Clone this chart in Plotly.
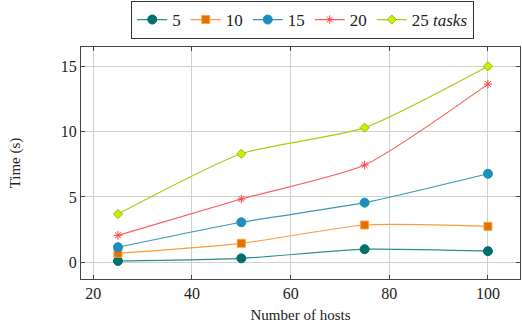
import plotly.graph_objects as go

hosts = [25, 50, 75, 100]
t5 = [0.10, 0.30, 1.00, 0.85]
t10 = [0.69, 1.45, 2.85, 2.75]
t15 = [1.15, 3.06, 4.56, 6.77]
t20 = [2.06, 4.84, 7.44, 13.63]
t25 = [3.69, 8.30, 10.30, 15.00]

series = [
    ("5", t5, "#2a8f8a", "#00706b", "#00706b", "circle", 9),
    ("10", t10, "#ff9a3c", "#e07000", "#ffa040", "square", 8),
    ("15", t15, "#3a95b8", "#1a8fba", "#1a8fba", "circle", 9),
    ("20", t20, "#ff5c5c", "#ff4040", "#ff4040", "asterisk-open", 7),
    ("25 <i>tasks</i>", t25, "#a0d010", "#c8f000", "#90c000", "diamond", 7),
]

fig = go.Figure()
for name, ys, lc, mc, mlc, sym, sz in series:
    fig.add_trace(go.Scatter(
        x=hosts, y=ys, name=name, mode="lines+markers",
        line=dict(color=lc, width=1.2, shape="spline", smoothing=0.6),
        marker=dict(symbol=sym, size=sz, color=mc, line=dict(color=mlc, width=1)),
    ))

font = "Liberation Serif"
fig.update_layout(
    width=522, height=329,
    margin=dict(l=81, r=2, t=47, b=50, autoexpand=False),
    paper_bgcolor="white", plot_bgcolor="white",
    font=dict(family=font, size=16, color="#222"),
    legend=dict(orientation="h", x=0.58, xanchor="center", xref="container",
                y=0.997, yanchor="top", yref="container",
                bordercolor="#333", borderwidth=1, font=dict(size=17),
                itemwidth=30, tracegroupgap=0),
    showlegend=True,
)
fig.update_xaxes(range=[17.5, 106.5], tickvals=[20, 40, 60, 80, 100],
                 showgrid=True, gridcolor="#d0d0d0", gridwidth=1,
                 showline=True, linecolor="#444", linewidth=1.2, mirror="ticks",
                 ticks="inside", ticklen=4, tickcolor="#444", automargin=False,
                 title=dict(text="Number of hosts", font=dict(size=15), standoff=8),
                 zeroline=False)
fig.update_yaxes(range=[-1.28, 16.47], tickvals=[0, 5, 10, 15],
                 showgrid=True, gridcolor="#d0d0d0", gridwidth=1,
                 showline=True, linecolor="#444", linewidth=1.2, mirror="ticks",
                 ticks="inside", ticklen=4, tickcolor="#444", automargin=False,
                 title=dict(text="Time (s)", font=dict(size=15), standoff=36),
                 zeroline=False)

fig.write_html("out.html", config={"displayModeBar": False},
               post_script="document.body.style.margin='0';document.body.style.overflow='hidden';")
